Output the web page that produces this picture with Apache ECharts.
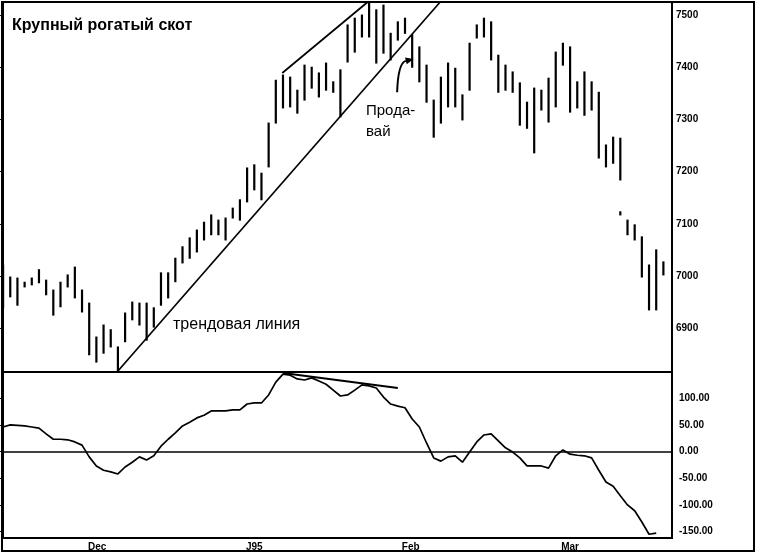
<!DOCTYPE html>
<html><head><meta charset="utf-8">
<script src="https://cdn.jsdelivr.net/npm/echarts@6/dist/echarts.min.js"></script>
<style>html,body{margin:0;padding:0;background:#fff}#c{width:760px;height:554px}</style>
</head><body><div id="c"></div>
<script>
// Daily high / low prices (one bar per trading day)
const highs = [7021, 6998, 6996, 6988, 6996, 7012, 6992, 6973, 6988, 7002,
  7017, 6973, 6948, 6883, 6906, 6897, 6864, 6929, 6950, 6948,
  6948, 6939, 7006, 7006, 7034, 7056, 7073, 7088, 7103, 7117,
  7107, 7111, 7130, 7146, 7207, 7213, 7197, 7293, 7375, 7385,
  7381, 7356, 7404, 7400, 7389, 7408, 7372, 7395, 7481, 7494,
  7500, 7525, 7510, 7519, 7465, 7487, 7494, 7462, 7439, 7404,
  7337, 7381, 7408, 7398, 7347, 7446, 7481, 7494, 7487, 7423,
  7404, 7391, 7370, 7333, 7360, 7356, 7379, 7429, 7446, 7439,
  7372, 7391, 7372, 7352, 7251, 7266, 7264, 7107, 7098, 7075,
  7021, 7050, 7027];
const lows = [6939, 6960, 6944, 6979, 6983, 6987, 6964, 6925, 6941, 6979,
  6958, 6931, 6849, 6835, 6852, 6864, 6818, 6874, 6916, 6906,
  6877, 6902, 6944, 6958, 6989, 7025, 7034, 7046, 7069, 7079,
  7079, 7069, 7111, 7107, 7142, 7165, 7146, 7209, 7293, 7322,
  7324, 7312, 7337, 7360, 7343, 7356, 7352, 7305, 7410, 7429,
  7458, 7458, 7408, 7427, 7414, 7452, 7465, 7400, 7372, 7333,
  7266, 7293, 7324, 7324, 7299, 7356, 7456, 7458, 7414, 7352,
  7356, 7352, 7289, 7283, 7236, 7318, 7295, 7324, 7404, 7314,
  7322, 7308, 7318, 7226, 7209, 7216, 7184, 7079, 7069, 6998,
  6935, 6935, 7002];
// isolated limit print (index, high, low)
const gapPrint = [[86, 7123, 7117]];
// oscillator (CCI) per day
const cci = [46, 50, 49, 48, 46, 44, 33, 23, 23, 22,
  18, 12, -10, -27, -35, -38, -42, -29, -20, -10,
  -16, -8, 10, 23, 35, 48, 55, 63, 68, 76,
  76, 76, 78, 78, 89, 91, 91, 106, 130, 145,
  143, 136, 134, 138, 132, 126, 115, 104, 106, 115,
  125, 123, 119, 102, 89, 85, 82, 61, 46, 16,
  -12, -18, -10, -8, -20, -1, 18, 31, 33, 20,
  7, -1, -12, -27, -27, -27, -31, -8, 3, -5,
  -7, -8, -12, -35, -57, -65, -83, -100, -111, -132,
  -155, -153, null];
const priceTicks = [6900, 7000, 7100, 7200, 7300, 7400, 7500];
const cciTicks = [-150, -100, -50, 0, 50, 100];
const monthPos = [13.1, 35, 56.8, 79];
const monthLabels = ['Dec', 'J95', 'Feb', 'Mar'];
const trendLine = [[16, 6818], [60.9, 7525]];
const channelLine = [[38.9, 7389], [50.8, 7525]];
const divergenceLine = [[39, 147], [55, 119]];
const sellArrow = [[54.9, 7352, 57.2, 7416]];

const chart = echarts.init(document.getElementById('c'));
const FONT = 'Liberation Sans';
const axisLbl = {fontFamily: FONT, fontWeight: 'bold', fontSize: 10, color: '#000'};
function hl(params, api) {
  const x = api.value(0);
  const a = api.coord([x, api.value(1)]);
  const b = api.coord([x, api.value(2)]);
  return {type: 'line', shape: {x1: a[0], y1: a[1] - 0.5, x2: b[0], y2: b[1] + 0.5},
    style: {stroke: '#000', lineWidth: 2.2}};
}
function arrow(params, api) {
  const s = api.coord([api.value(0), api.value(1)]);
  const e = api.coord([api.value(2), api.value(3)]);
  const c = [s[0] + 1, e[1] + 4];
  const dx = e[0] - c[0], dy = e[1] - c[1], L = Math.hypot(dx, dy);
  const ux = dx / L, uy = dy / L, len = 8, w = 3.5;
  const base = [e[0] - ux * len, e[1] - uy * len];
  return {type: 'group', children: [
    {type: 'bezierCurve', shape: {x1: s[0], y1: s[1], x2: base[0], y2: base[1], cpx1: c[0], cpy1: c[1]},
      style: {stroke: '#000', lineWidth: 2, fill: null}},
    {type: 'polygon', shape: {points: [e, [base[0] - uy * w, base[1] + ux * w], [base[0] + uy * w, base[1] - ux * w]]},
      style: {fill: '#000'}}
  ]};
}
chart.setOption({
  animation: false,
  backgroundColor: '#fff',
  grid: [
    {left: 2, top: 2, width: 670, height: 370, show: true, borderColor: '#000', borderWidth: 2},
    {left: 2, top: 372, width: 670, height: 166, show: true, borderColor: '#000', borderWidth: 2}
  ],
  xAxis: [
    {type: 'value', gridIndex: 0, min: -0.15, max: 93.2, show: false},
    {type: 'value', gridIndex: 1, min: -0.15, max: 93.2, splitLine: {show: false},
      axisLine: {show: false}, axisTick: {show: false},
      axisLabel: Object.assign({customValues: monthPos, margin: 4,
        formatter: v => monthLabels[monthPos.indexOf(v)] || ''}, axisLbl)}
  ],
  yAxis: [
    {type: 'value', gridIndex: 0, position: 'right', min: 6816, max: 7525, scale: true,
      splitLine: {show: false},
      axisLine: {show: true, lineStyle: {color: '#000', width: 2}},
      axisTick: {show: true, customValues: priceTicks, length: 3, inside: true, lineStyle: {color: '#000'}},
      axisLabel: Object.assign({customValues: priceTicks, margin: 4, formatter: v => String(v)}, axisLbl)},
    {type: 'value', gridIndex: 1, position: 'right', min: -162, max: 149,
      splitLine: {show: false},
      axisLine: {show: true, lineStyle: {color: '#000', width: 2}},
      axisTick: {show: true, customValues: cciTicks, length: 3, inside: true, lineStyle: {color: '#000'}},
      axisLabel: Object.assign({customValues: cciTicks, margin: 7, formatter: v => v.toFixed(2)}, axisLbl)}
  ],
  series: [
    {type: 'custom', xAxisIndex: 0, yAxisIndex: 0, renderItem: hl, clip: true,
      encode: {x: 0, y: [1, 2]}, data: highs.map((h, i) => [i, h, lows[i]])},
    {type: 'custom', xAxisIndex: 0, yAxisIndex: 0, renderItem: hl, clip: true,
      encode: {x: 0, y: [1, 2]}, data: gapPrint},
    {type: 'custom', xAxisIndex: 0, yAxisIndex: 0, renderItem: arrow, silent: true,
      encode: {x: [0, 2], y: [1, 3]}, data: sellArrow},
    {type: 'line', xAxisIndex: 0, yAxisIndex: 0, data: trendLine, symbol: 'none',
      lineStyle: {color: '#000', width: 1.7}, silent: true},
    {type: 'line', xAxisIndex: 0, yAxisIndex: 0, data: channelLine, symbol: 'none',
      lineStyle: {color: '#000', width: 1.7}, silent: true},
    {type: 'line', xAxisIndex: 1, yAxisIndex: 1, data: cci.map((v, i) => [i, v]), symbol: 'none',
      lineStyle: {color: '#000', width: 1.7}, silent: true,
      markLine: {silent: true, symbol: 'none', label: {show: false},
        lineStyle: {color: '#000', width: 1.6, type: 'solid'}, data: [{yAxis: 0}]}},
    {type: 'line', xAxisIndex: 1, yAxisIndex: 1, data: divergenceLine, symbol: 'none',
      lineStyle: {color: '#000', width: 2}, silent: true}
  ],
  graphic: [
    {type: 'rect', shape: {x: 2, y: 2, width: 752, height: 549}, silent: true,
      style: {fill: 'none', stroke: '#000', lineWidth: 2}},
    {type: 'text', x: 12, y: 18, silent: true,
      style: {text: 'Крупный рогатый скот', font: 'bold 16px "Liberation Sans"', fill: '#000'}},
    {type: 'text', x: 366, y: 100, silent: true,
      style: {text: 'Прода-\nвай', font: '15px "Liberation Sans"', lineHeight: 21, fill: '#000'}},
    {type: 'text', x: 173, y: 317, silent: true,
      style: {text: 'трендовая линия', font: '16px "Liberation Sans"', fill: '#000'}}
  ]
});
</script></body></html>
